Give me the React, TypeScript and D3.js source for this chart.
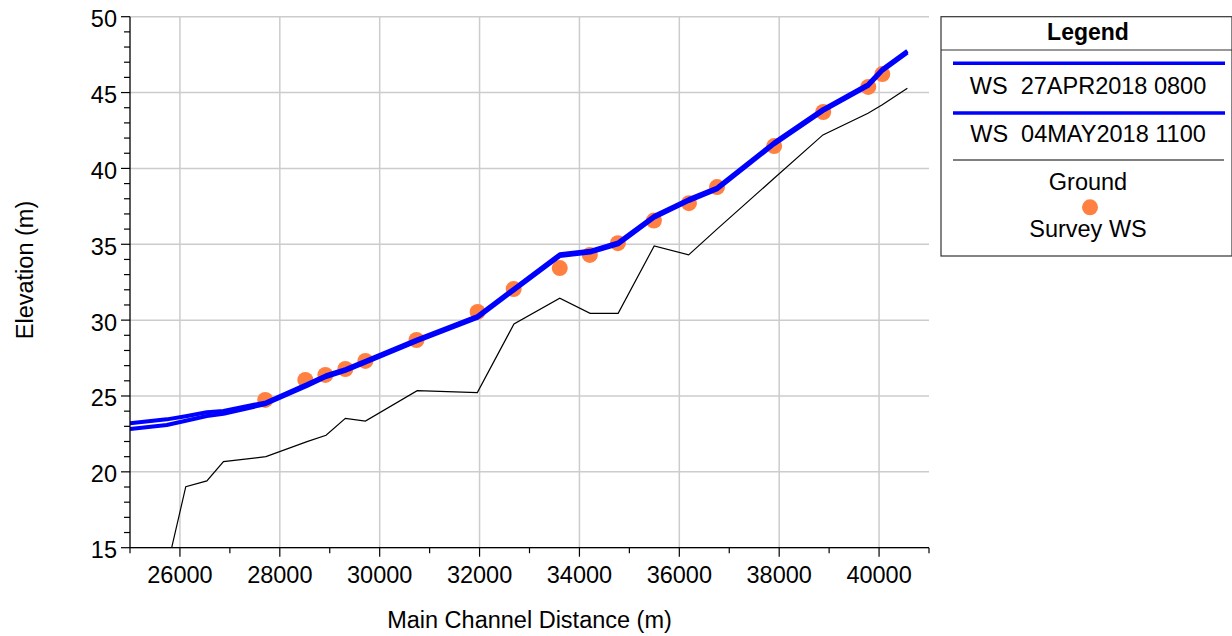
import React from "react";
import * as d3 from "d3";

// river stations (m) where the profile has cross sections
const stations = [
  25000, 25736, 26117, 26539, 26872, 27722, 28545, 28926, 29313, 29714, 30751, 31955,
  32689, 33606, 34214, 34775, 35497, 36187, 36755, 37899, 38876, 39779, 40065, 40567,
];
const ws27Apr = [
  23.2, 23.46, 23.67, 23.93, 24.01, 24.58, 25.78, 26.37, 26.77, 27.31, 28.74, 30.27,
  32.08, 34.34, 34.57, 35.12, 36.87, 37.97, 38.74, 41.71, 43.9, 45.55, 46.55, 47.75,
];
const ws04May = [
  22.82, 23.09, 23.37, 23.68, 23.82, 24.47, 25.66, 26.25, 26.65, 27.19, 28.62, 30.15,
  31.96, 34.22, 34.45, 35.0, 36.75, 37.85, 38.62, 41.59, 43.78, 45.43, 46.43, 47.63,
];
const ground = [
  12.0, 13.6, 19.02, 19.4, 20.67, 21.0, 21.99, 22.41, 23.53, 23.35, 25.35, 25.22,
  29.75, 31.44, 30.45, 30.45, 34.89, 34.3, 36.0, 39.35, 42.21, 43.64, 44.2, 45.28,
];
// surveyed water surface
const surveyStation = [
  27708, 28511, 28912, 29313, 29714, 30737, 31961, 32683, 33606, 34208, 34770, 35491,
  36193, 36755, 37899, 38882, 39784, 40065,
];
const surveyWS = [
  24.74, 26.06, 26.39, 26.78, 27.31, 28.69, 30.54, 32.05, 33.43, 34.3, 35.07, 36.56,
  37.71, 38.77, 41.47, 43.72, 45.37, 46.22,
];
const legendItems = ["WS  27APR2018 0800", "WS  04MAY2018 1100", "Ground", "Survey WS"];

const font = "'Liberation Sans', Arial, sans-serif";

export default function App() {
  const width = 1232,
    height = 636;
  const left = 130,
    right = 929,
    top = 16.7,
    bottom = 547.7;

  const x = d3.scaleLinear().domain([25000, 41000]).range([left, right]);
  const y = d3.scaleLinear().domain([15, 50]).range([bottom, top]);

  const xMajor = d3.range(26000, 41000, 2000);
  const xMinor = d3.range(25000, 41001, 1000).filter((v) => v % 2000 !== 0);
  const yMajor = d3.range(15, 51, 5);
  const yMinor = d3.range(15, 51, 1).filter((v) => v % 5 !== 0);

  const line = d3
    .line<number>()
    .x((_, i) => x(stations[i]))
    .y((d) => y(d));

  // legend geometry
  const lg = { x: 941, y: 16.7, w: 291, h: 239.3 };
  const lgCx = 1088;

  return (
    <svg
      width={width}
      height={height}
      style={{ position: "absolute", left: 0, top: 0, background: "#fff" }}
      fontFamily={font}
    >
      <defs>
        <clipPath id="plot">
          <rect x={left} y={top} width={right - left} height={bottom - top} />
        </clipPath>
      </defs>

      {/* grid */}
      {xMajor.map((v) => (
        <line key={"gx" + v} x1={x(v)} x2={x(v)} y1={top} y2={bottom} stroke="#cccccc" strokeWidth={1.5} />
      ))}
      {yMajor.map((v) => (
        <line key={"gy" + v} x1={left} x2={right} y1={y(v)} y2={y(v)} stroke="#cccccc" strokeWidth={1.5} />
      ))}

      {/* series */}
      <g clipPath="url(#plot)">
        <path d={line(ground) ?? ""} fill="none" stroke="#000" strokeWidth={1.2} />
        {surveyStation.map((s, i) => (
          <circle key={"sv" + i} cx={x(s)} cy={y(surveyWS[i])} r={8} fill="#ff8040" />
        ))}
        <path d={line(ws27Apr) ?? ""} fill="none" stroke="#0000ff" strokeWidth={4} strokeLinejoin="round" />
        <path d={line(ws04May) ?? ""} fill="none" stroke="#0000ff" strokeWidth={4} strokeLinejoin="round" />
      </g>

      {/* axes */}
      <line x1={left} x2={left} y1={top} y2={bottom} stroke="#000" strokeWidth={1.3} />
      <line x1={left} x2={right} y1={bottom} y2={bottom} stroke="#000" strokeWidth={1.3} />
      {yMajor.map((v) => (
        <g key={"yt" + v}>
          <line x1={left - 9} x2={left} y1={y(v)} y2={y(v)} stroke="#000" strokeWidth={1.2} />
          <text x={left - 13} y={y(v) + 2} dy="0.36em" textAnchor="end" fontSize={23.5}>
            {v}
          </text>
        </g>
      ))}
      {yMinor.map((v) => (
        <line key={"ym" + v} x1={left - 6} x2={left} y1={y(v)} y2={y(v)} stroke="#000" strokeWidth={1.2} />
      ))}
      {xMajor.map((v) => (
        <g key={"xt" + v}>
          <line x1={x(v)} x2={x(v)} y1={bottom} y2={bottom + 9} stroke="#000" strokeWidth={1.2} />
          <text x={x(v)} y={bottom + 35.6} textAnchor="middle" fontSize={23.5}>
            {v}
          </text>
        </g>
      ))}
      {xMinor.map((v) => (
        <line key={"xm" + v} x1={x(v)} x2={x(v)} y1={bottom} y2={bottom + 5.5} stroke="#000" strokeWidth={1.2} />
      ))}

      {/* axis titles */}
      <text x={(left + right) / 2} y={628.3} textAnchor="middle" fontSize={23.5}>
        Main Channel Distance (m)
      </text>
      <text transform="translate(33.3,270) rotate(-90)" textAnchor="middle" fontSize={23.5}>
        Elevation (m)
      </text>

      {/* legend */}
      <rect x={lg.x} y={lg.y} width={lg.w} height={lg.h} fill="#fff" stroke="#333" strokeWidth={1.2} />
      <line x1={lg.x} x2={lg.x + lg.w} y1={50} y2={50} stroke="#333" strokeWidth={1.2} />
      <text x={lgCx} y={40} textAnchor="middle" fontSize={23} fontWeight="bold">
        Legend
      </text>
      <line x1={953} x2={1225} y1={63.3} y2={63.3} stroke="#0000ff" strokeWidth={3.5} />
      <text x={lgCx} y={94.3} textAnchor="middle" fontSize={23.5} style={{ whiteSpace: "pre" }}>
        {legendItems[0]}
      </text>
      <line x1={953} x2={1225} y1={113} y2={113} stroke="#0000ff" strokeWidth={3.5} />
      <text x={lgCx} y={141.7} textAnchor="middle" fontSize={23.5} style={{ whiteSpace: "pre" }}>
        {legendItems[1]}
      </text>
      <line x1={953} x2={1224} y1={160} y2={160} stroke="#000" strokeWidth={1.2} />
      <text x={lgCx} y={190} textAnchor="middle" fontSize={23.5}>
        {legendItems[2]}
      </text>
      <circle cx={1090} cy={207.3} r={8} fill="#ff8040" />
      <text x={lgCx} y={236.7} textAnchor="middle" fontSize={23.5}>
        {legendItems[3]}
      </text>
    </svg>
  );
}
